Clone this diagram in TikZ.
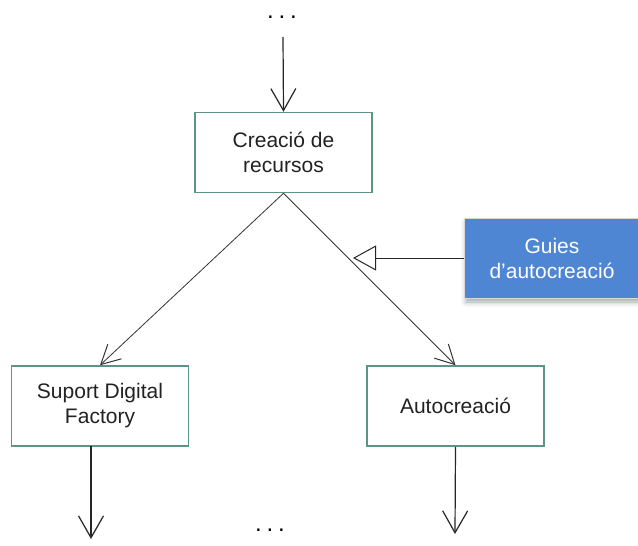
\documentclass[tikz,border=0pt]{standalone}
\usepackage{fontspec}
\setmainfont{Liberation Sans}
\usetikzlibrary{arrows.meta,shadows.blur}
\definecolor{boxedge}{HTML}{5E9488}
\definecolor{guideblue}{HTML}{4F86D4}
\definecolor{inkgray}{HTML}{222222}
\newcommand{\spaceddots}{.\hspace{4.8pt}.\hspace{4.8pt}.}
\tikzset{
  stepbox/.style={draw=boxedge, line width=1.5pt, fill=white, minimum width=177pt,
    minimum height=80pt, align=center, text=inkgray, inner sep=0pt,
    font=\fontsize{21}{25}\selectfont},
  guidebox/.style={draw=white!85!black, line width=1pt, fill=guideblue, minimum width=176pt,
    minimum height=80pt, align=center, text=white, inner sep=0pt,
    font=\fontsize{21}{25}\selectfont,
    blur shadow={shadow xshift=2pt, shadow yshift=-4pt, shadow blur radius=5pt, shadow opacity=35}},
  flow/.style={draw=black!85, line width=1.2pt, -{Straight Barb[length=22pt,width=25pt,line width=1.2pt]}},
  branch/.style={draw=black!80, line width=0.8pt, -{Straight Barb[length=19pt,width=20pt,line width=1pt]}},
  hint/.style={draw=black!85, line width=1pt, -{Triangle[open,length=23pt,width=25pt,line width=1pt,fill=white]}},
  dots/.style={text=black, font=\fontsize{24}{26}\selectfont, inner sep=0pt}
}
\begin{document}
\begin{tikzpicture}[x=1pt,y=-1pt]
  \useasboundingbox (0,0) rectangle (638,546);
  % nodes
  \node[dots] (topdots) at (282,17) {\spaceddots};
  \coordinate (topin) at (283,37);
  \node[stepbox] (create) at (283.5,152.5) {Creació de\\recursos};
  \node[guidebox] (guide) at (552,258) {Guies\\d'autocreació};
  \node[stepbox] (suport) at (100,406) {Suport Digital\\Factory};
  \node[stepbox] (auto) at (455.5,406) {Autocreació};
  \coordinate (suportout) at (91,539);
  \coordinate (autoout) at (455,534);
  \coordinate (hinttip) at (353,258);
  \node[dots] (botdots) at (270,530) {\spaceddots};
  % connectors
  \draw[flow] (topin) -- (create.north);
  \draw[branch] (create.south) -- (suport.north);
  \draw[branch] (create.south) -- (auto.north);
  \draw[hint] (guide.west) -- (hinttip);
  \draw[flow] (91,446) -- (suportout);
  \draw[flow] (auto.south) -- (autoout);
\end{tikzpicture}
\end{document}
